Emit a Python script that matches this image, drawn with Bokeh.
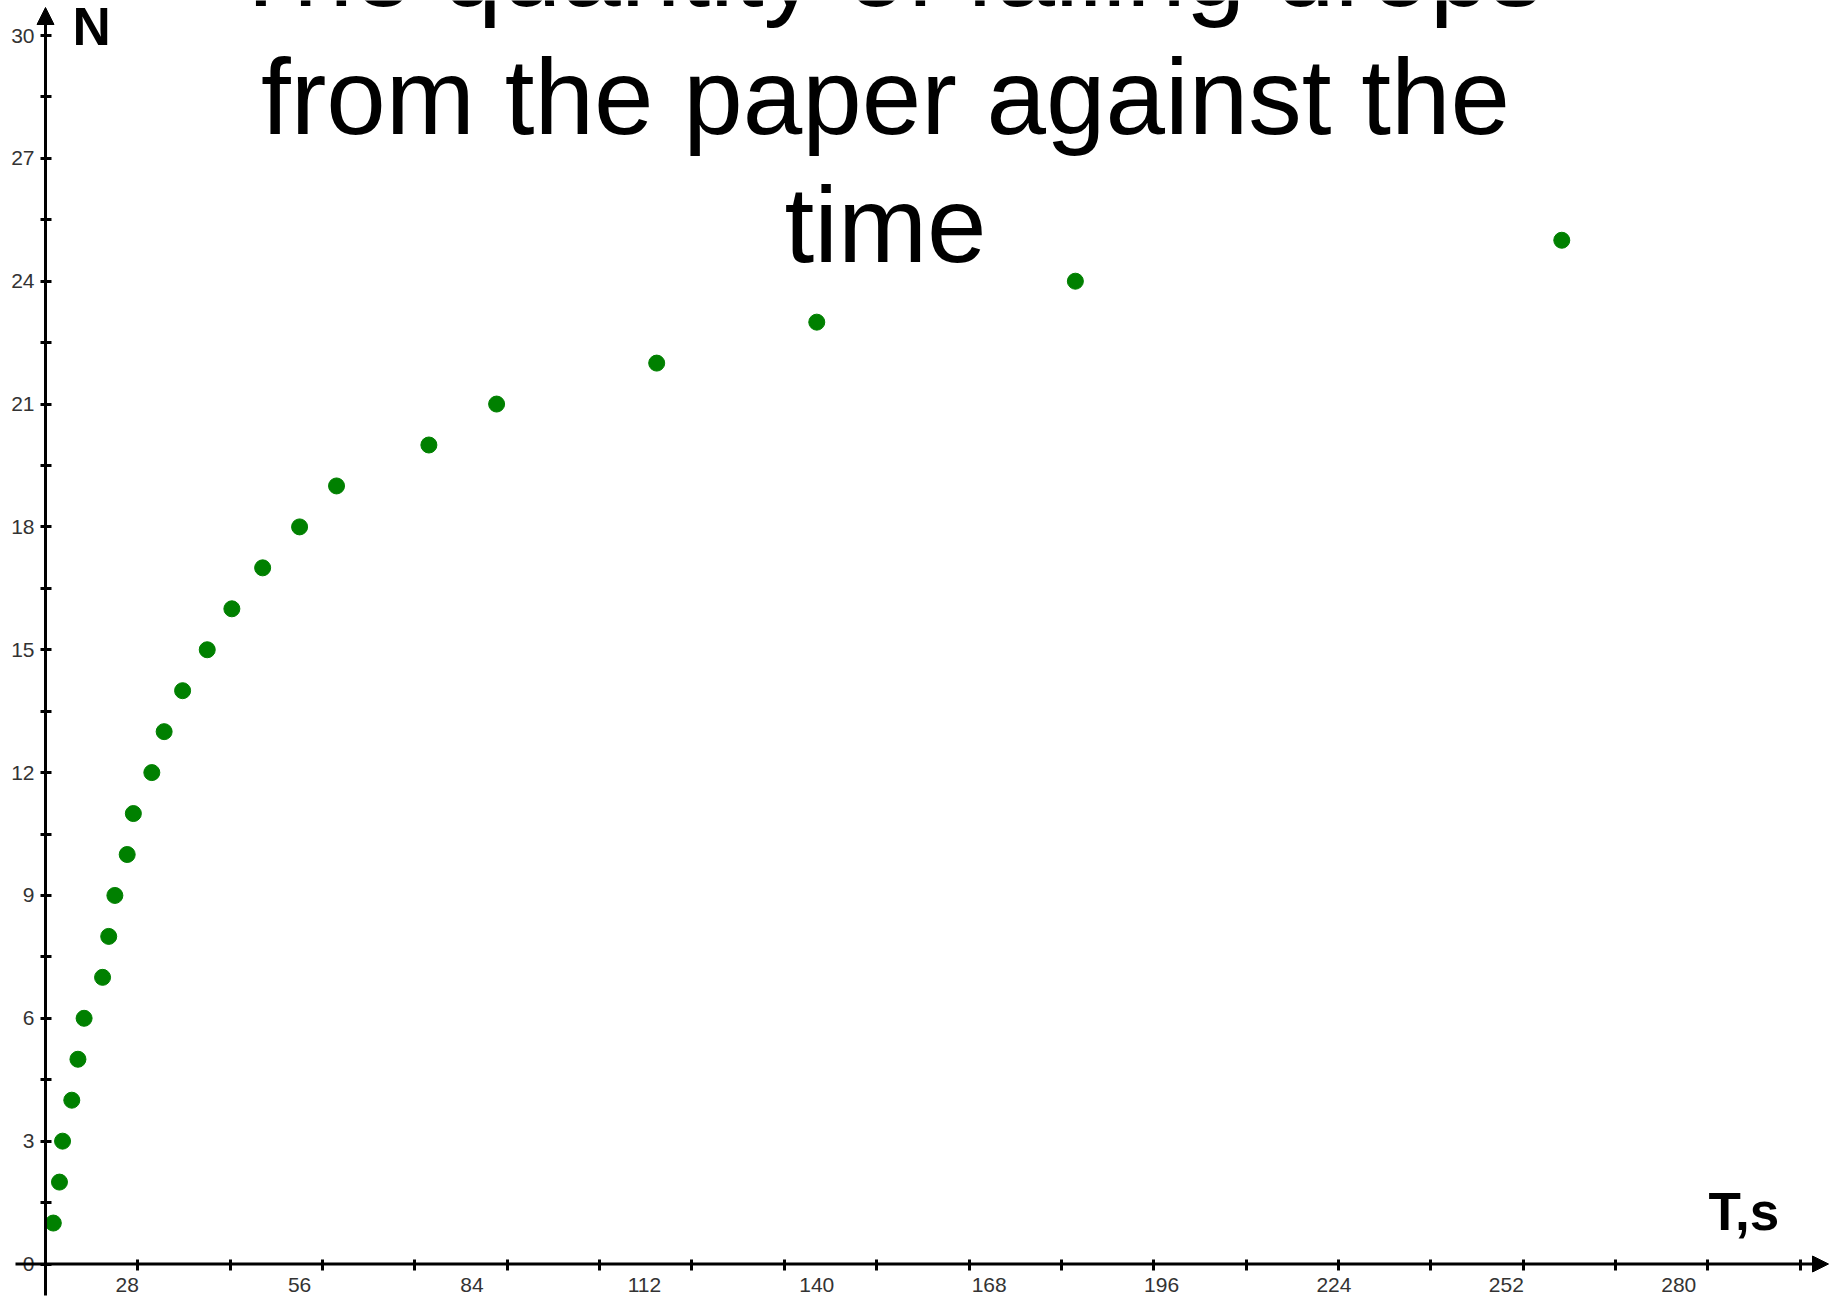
from bokeh.plotting import figure
from bokeh.models import Range1d, FixedTicker, Arrow, NormalHead, Label
from bokeh.embed import file_html
from bokeh.resources import INLINE

# ---------------- data ----------------
title_lines = ["The quantity of falling drops", "from the paper against the", "time"]
time_s = [16, 17, 17.5, 19, 20, 21, 24, 25, 26, 28, 29, 32, 34, 37, 41, 45, 50,
          56, 62, 77, 88, 114, 140, 182, 261]
drops = [1, 2, 3, 4, 5, 6, 7, 8, 9, 10, 11, 12, 13, 14, 15, 16, 17, 18, 19, 20,
         21, 22, 23, 24, 25]
x_tick_values = [28, 56, 84, 112, 140, 168, 196, 224, 252, 280]
y_tick_values = [0, 3, 6, 9, 12, 15, 18, 21, 24, 27, 30]
x_label = "T,s"
y_label = "N"

# ---------------- layout ----------------
W, H = 1835, 1297
PAGE = 0  # observed offset of the canvas on the page


def px_to_x(px):
    return (px + 45.7) / 6.157


def py_to_y(py):
    return (1263.5 - py) / 40.95


def text_y(baseline_px, font_px):
    # empirical correction for where the label's baseline lands
    return py_to_y(baseline_px - 0.355 * font_px)


x_axis_pos = px_to_x(45)          # where the vertical axis sits
x_minor = [x_axis_pos + 15 * k for k in range(1, 20)]
y_minor = [1.5 * k for k in range(0, 21)]

p = figure(width=W, height=H, output_backend="svg", toolbar_location=None,
           x_range=Range1d(px_to_x(PAGE), px_to_x(PAGE + W)),
           y_range=Range1d(py_to_y(PAGE + H), py_to_y(PAGE)),
           min_border=0, outline_line_color=None)
p.grid.visible = False
p.background_fill_color = "white"

font = "Liberation Sans"

# x axis
xa = p.xaxis[0]
xa.fixed_location = 0
xa.ticker = FixedTicker(ticks=x_tick_values, minor_ticks=x_minor)
xa.axis_line_color = None
xa.major_tick_in = 0
xa.major_tick_out = 0
xa.minor_tick_in = 5
xa.minor_tick_out = 6
xa.minor_tick_line_width = 3
xa.minor_tick_line_color = "black"
xa.major_label_standoff = 8
xa.major_label_text_font = font
xa.major_label_text_font_size = "21px"
xa.major_label_text_color = "#333333"

# y axis
ya = p.yaxis[0]
ya.fixed_location = x_axis_pos
ya.ticker = FixedTicker(ticks=y_tick_values, minor_ticks=y_minor)
ya.axis_line_color = None
ya.major_tick_in = 0
ya.major_tick_out = 0
ya.minor_tick_in = 6
ya.minor_tick_out = 5
ya.minor_tick_line_width = 3
ya.minor_tick_line_color = "black"
ya.major_label_standoff = 6
ya.major_label_text_font = font
ya.major_label_text_font_size = "21px"
ya.major_label_text_color = "#333333"

# axis lines with arrow heads
p.add_layout(Arrow(end=NormalHead(size=16, fill_color="black", line_color="black", line_width=1),
                   x_start=px_to_x(15), y_start=0, x_end=px_to_x(1828), y_end=0,
                   line_width=3, line_color="black"))
p.add_layout(Arrow(end=NormalHead(size=17, fill_color="black", line_color="black", line_width=1),
                   x_start=x_axis_pos, y_start=py_to_y(1295), x_end=x_axis_pos, y_end=py_to_y(7),
                   line_width=3, line_color="black"))

# data points
p.scatter(x=time_s, y=drops, size=16, color="#008000", marker="circle")

# axis names
p.add_layout(Label(x=px_to_x(72), y=text_y(45, 53), text=y_label, text_font=font,
                   text_font_size="53px", text_font_style="bold", text_color="black",
                   text_baseline="alphabetic", text_align="left"))
p.add_layout(Label(x=px_to_x(1708), y=text_y(1230, 53), text=x_label, text_font=font,
                   text_font_size="53px", text_font_style="bold", text_color="black",
                   text_baseline="alphabetic", text_align="left"))

# title lines
baselines = [6.3, 134.3, 262.3]
for line, b in zip(title_lines, baselines):
    p.add_layout(Label(x=px_to_x(885), y=text_y(b, 107), text=line, text_font=font,
                       text_font_size="107px", text_color="black",
                       text_baseline="alphabetic", text_align="center"))

open("out.html", "w").write(file_html(p, INLINE))
